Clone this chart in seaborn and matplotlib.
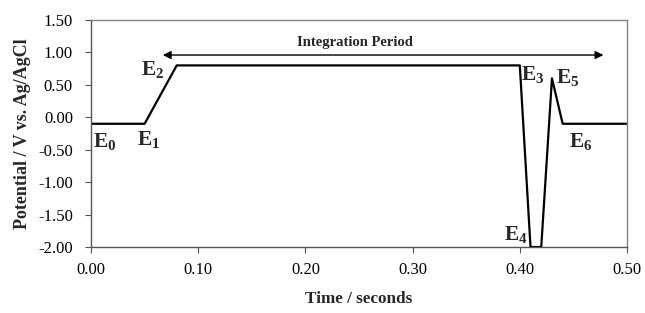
import matplotlib
matplotlib.use("Agg")
import matplotlib.pyplot as plt
import seaborn as sns
import pandas as pd

# Waveform data (time in s, potential in V vs Ag/AgCl)
time_s = [0.00, 0.05, 0.08, 0.40, 0.41, 0.42, 0.43, 0.44, 0.50]
potential_v = [-0.10, -0.10, 0.80, 0.80, -2.00, -2.00, 0.60, -0.10, -0.10]

# Point labels
label_names = ["0", "1", "2", "3", "4", "5", "6"]
label_x = [0.013, 0.054, 0.058, 0.412, 0.396, 0.445, 0.457]
label_y = [-0.37, -0.35, 0.74, 0.66, -1.80, 0.62, -0.38]

x_ticks = [0.0, 0.1, 0.2, 0.3, 0.4, 0.5]
y_ticks = [-2.0, -1.5, -1.0, -0.5, 0.0, 0.5, 1.0, 1.5]

sns.set_theme(style="white")
plt.rcParams["font.family"] = ["Liberation Serif", "DejaVu Serif"]
plt.rcParams["mathtext.fontset"] = "custom"
plt.rcParams["mathtext.rm"] = "Liberation Serif"
plt.rcParams["mathtext.bf"] = "Liberation Serif:bold"
plt.rcParams["mathtext.it"] = "Liberation Serif:italic"

df = pd.DataFrame({"t": time_s, "E": potential_v})

fig = plt.figure(figsize=(6.45, 3.13), dpi=100)
ax = fig.add_axes([91 / 645, 1 - 247 / 313, (627 - 91) / 645, (247 - 20) / 313])

sns.lineplot(data=df, x="t", y="E", sort=False, estimator=None,
             color="black", linewidth=1.6, ax=ax)

ax.set_xlim(0, 0.5)
ax.set_ylim(-2.0, 1.5)
ax.set_xticks(x_ticks)
ax.set_yticks(y_ticks)
ax.set_xticklabels([f"{v:.2f}" for v in x_ticks])
ax.set_yticklabels([f"{v:.2f}" for v in y_ticks])
ax.tick_params(axis="both", direction="out", length=4, width=0.8,
               color="#555555", labelsize=12, labelcolor="black",
               bottom=True, left=True)
ax.xaxis.set_tick_params(pad=7)
ax.yaxis.set_tick_params(pad=9)
for s in ax.spines.values():
    s.set_color("#808080")
    s.set_linewidth(1.0)
ax.spines["left"].set_color("#555555")
ax.spines["bottom"].set_color("#555555")

ax.set_xlabel("Time / seconds", fontsize=12.3, fontweight="bold", labelpad=9)
ax.set_ylabel("Potential / V vs. Ag/AgCl", fontsize=13, fontweight="bold", labelpad=5)

for n, x, y in zip(label_names, label_x, label_y):
    ax.text(x, y, r"$\mathbf{E_{" + n + r"}}$", fontsize=15.5, ha="center", va="center")

ax.annotate("", xy=(0.067, 0.96), xytext=(0.478, 0.96),
            arrowprops=dict(arrowstyle="<|-|>", color="black", lw=1.0,
                            mutation_scale=12, shrinkA=0, shrinkB=0))
ax.text(0.246, 1.16, "Integration Period", fontsize=10.5, fontweight="bold",
        ha="center", va="center")

fig.savefig("out.png", dpi=100)
